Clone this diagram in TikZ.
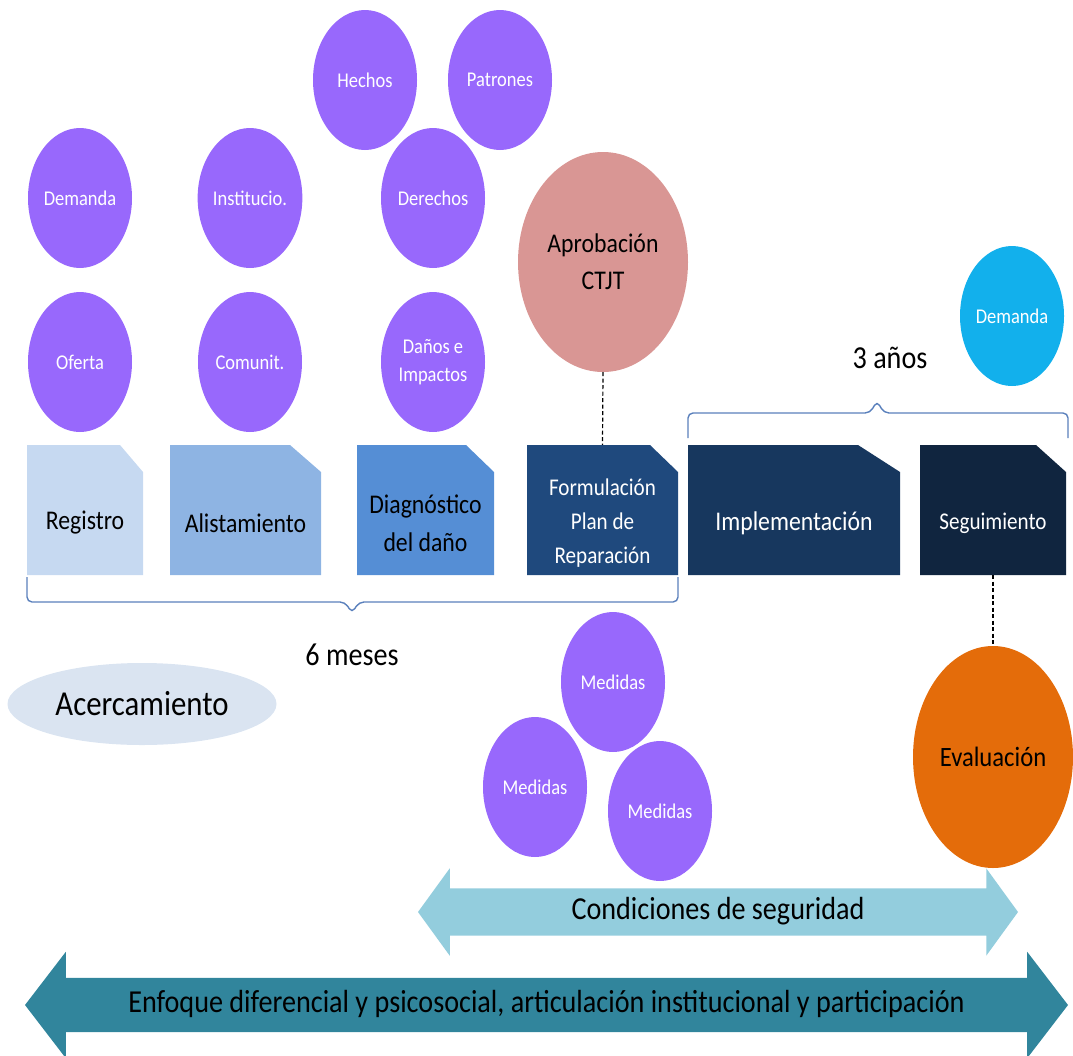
\documentclass[tikz,border=0pt]{standalone}
\usepackage{fontspec}
\setmainfont{Carlito}[FakeStretch=0.88]
\usetikzlibrary{shapes.geometric,shapes.arrows}

\definecolor{bubblecol}{RGB}{152,104,252}
\definecolor{aprobcol}{RGB}{217,150,148}
\definecolor{skycol}{RGB}{18,176,236}
\definecolor{evalcol}{RGB}{228,108,10}
\definecolor{acercol}{RGB}{218,228,241}
\definecolor{regcol}{RGB}{198,217,241}
\definecolor{alistcol}{RGB}{142,180,227}
\definecolor{diagcol}{RGB}{85,142,213}
\definecolor{formcol}{RGB}{31,73,125}
\definecolor{implcol}{RGB}{23,55,94}
\definecolor{segcol}{RGB}{16,37,63}
\definecolor{condcol}{RGB}{147,205,221}
\definecolor{enfocol}{RGB}{49,133,156}
\definecolor{bracecol}{RGB}{90,128,188}

\begin{document}
\begin{tikzpicture}
  [x=1pt,y=-1pt,
   bubble/.style={ellipse, fill=bubblecol, text=white, inner sep=0pt,
     minimum width=104pt, minimum height=140pt, align=center,
     font=\fontsize{21}{28}\selectfont},
   phasebox/.style 2 args={rectangle, inner sep=0pt, minimum height=130pt,
     path picture={\fill[#1] (path picture bounding box.south west)
       -- (path picture bounding box.north west)
       -- ([xshift=-#2]path picture bounding box.north east)
       -- ([yshift=-27pt]path picture bounding box.north east)
       -- (path picture bounding box.south east) -- cycle;}},
   phasetext/.style={yshift=-13pt, align=center, font=\fontsize{27}{38}\selectfont},
   bracket/.style={draw=bracecol, line width=1.4pt, rounded corners=5pt},
   link/.style={line width=1.2pt, dash pattern=on 4pt off 2.5pt},
   band/.style={double arrow, inner xsep=0pt, text height=22pt, text depth=8pt,
     font=\fontsize{32}{38}\selectfont}]
  \useasboundingbox (0,0) rectangle (1073,1055);

  % circles above the phases
  \foreach \name/\px/\py/\txt in {dem/80/198/Demanda, ofe/80/362/Oferta,
      ins/250/198/Institucio., com/250/362/Comunit., hec/365/80/Hechos,
      pat/500/80/Patrones, der/433/198/Derechos, dan/433/362/{Daños e\\Impactos}}
    \node[bubble] (\name) at (\px,\py) {\txt};

  \node[ellipse, fill=aprobcol, minimum width=170pt, minimum height=220pt,
    inner sep=0pt, align=center, font=\fontsize{27}{37}\selectfont]
    (aprob) at (603,262) {Aprobación\\CTJT};
  \node[bubble, fill=skycol] (dem2) at (1012,316) {Demanda};

  % phases
  \node[phasebox={regcol}{23pt}, minimum width=116pt,
    label={[phasetext]center:Registro}] (reg) at (85,510) {};
  \node[phasebox={alistcol}{31pt}, minimum width=151pt,
    label={[phasetext]center:Alistamiento}] (alist) at (245.5,510) {};
  \node[phasebox={diagcol}{28pt}, minimum width=137pt,
    label={[phasetext]center:Diagnóstico\\del daño}] (diag) at (425.5,510) {};
  \node[phasebox={formcol}{28pt}, minimum width=151pt,
    label={[phasetext, text=white, font=\fontsize{24}{34}\selectfont]center:Formulación\\Plan de\\Reparación}]
    (form) at (602.5,510) {};
  \node[phasebox={implcol}{42pt}, minimum width=212pt,
    label={[phasetext, text=white]center:Implementación}] (impl) at (794,510) {};
  \node[phasebox={segcol}{30pt}, minimum width=146pt,
    label={[phasetext, text=white, font=\fontsize{24}{34}\selectfont]center:Seguimiento}]
    (segu) at (993,510) {};

  % braces
  \draw[bracket] (27,577) -- (27,602) -- (345,602) -- (352,613) -- (359,602)
    -- (678,602) -- (678,577);
  \draw[bracket] (688,438) -- (688,413) -- (870,413) -- (877,401) -- (884,413)
    -- (1068,413) -- (1068,438);
  \node[font=\fontsize{32}{38}\selectfont] (seis) at (352,655) {6 meses};
  \node[font=\fontsize{32}{38}\selectfont] (tres) at (890,358) {3 años};

  \node[ellipse, fill=acercol, minimum width=269pt, minimum height=82pt,
    inner sep=0pt, font=\fontsize{35}{40}\selectfont] (acer) at (142,704) {Acercamiento};

  \foreach \name/\px/\py in {med1/613/682, med2/535/787, med3/660/811}
    \node[bubble] (\name) at (\px,\py) {Medidas};

  \node[ellipse, fill=evalcol, minimum width=160pt, minimum height=222pt,
    inner sep=0pt, font=\fontsize{28}{34}\selectfont] (eval) at (993,757) {Evaluación};

  \draw[link] (aprob.south) -- (form.north);
  \draw[link] (segu.south) -- (eval.north);

  % bands at the bottom
  \node[band, fill=condcol, inner ysep=8.5pt, minimum height=600pt,
    double arrow head extend=20pt, double arrow tip angle=108]
    (cond) at (718,912) {Condiciones de seguridad};
  \node[band, fill=enfocol, inner ysep=12pt, minimum height=1043pt,
    double arrow head extend=26pt, double arrow tip angle=105]
    (enfo) at (546.5,1005) {Enfoque diferencial y psicosocial, articulación institucional y participación};
\end{tikzpicture}
\end{document}
